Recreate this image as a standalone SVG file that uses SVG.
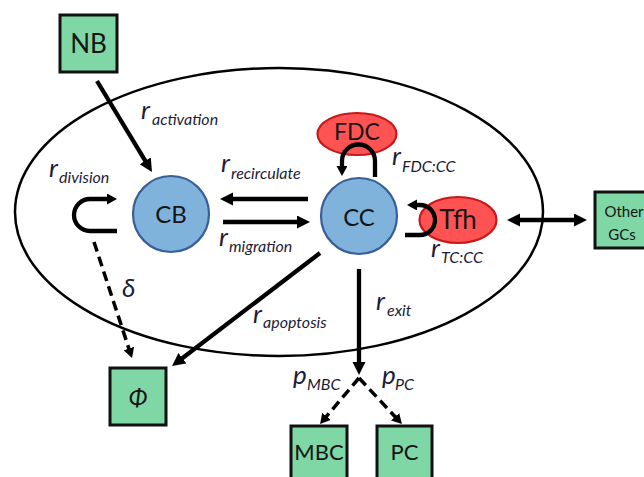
<svg xmlns="http://www.w3.org/2000/svg" width="644" height="477" viewBox="0 0 644 477">
<defs>
<style>
.box{fill:#80d7a6;stroke:#111;stroke-width:3}
.cell{fill:#7fb3dc;stroke:#3a5f96;stroke-width:2.2}
.red{fill:#ff5353;stroke:#c81818;stroke-width:2.2}
.lbl{font-family:Lato,"Liberation Sans",sans-serif;fill:#151515;text-anchor:middle}
.r{font-family:Lato,"Liberation Sans",sans-serif;font-style:italic;fill:#1c1c3a;font-size:26px}
.s{font-family:Lato,"Liberation Sans",sans-serif;font-style:italic;fill:#1c1c3a;font-size:16px}
.solid{fill:none;stroke:#000;stroke-width:4.3}
.dash{fill:none;stroke:#000;stroke-width:3.5;stroke-dasharray:10 5.5}
</style>
<marker id="ah" markerUnits="userSpaceOnUse" markerWidth="14" markerHeight="14" refX="3" refY="6.5" orient="auto-start-reverse" viewBox="0 0 14 14"><path d="M0,0 L13,6.5 L0,13 Z" fill="#000"/></marker>
<marker id="ahs" markerUnits="userSpaceOnUse" markerWidth="12" markerHeight="12" refX="2" refY="5.5" orient="auto" viewBox="0 0 12 12"><path d="M0,0 L10,5.5 L0,11 Z" fill="#000"/></marker>
<marker id="ahd" markerUnits="userSpaceOnUse" markerWidth="12" markerHeight="12" refX="2" refY="5.5" orient="auto" viewBox="0 0 12 12"><path d="M0,0 L10,5.5 L0,11 Z" fill="#000"/></marker>
</defs>
<rect width="644" height="477" fill="#fff"/>
<ellipse id="gc" cx="279" cy="212" rx="264" ry="144" fill="none" stroke="#000" stroke-width="2.5"/>

<g id="NB"><rect class="box" x="60" y="15" width="57" height="57"/><text class="lbl" x="88.5" y="53" font-size="26">NB</text></g>
<g id="CB"><circle class="cell" cx="171" cy="214" r="38"/><text class="lbl" x="171" y="223" font-size="24">CB</text></g>
<g id="CC"><circle class="cell" cx="359" cy="216" r="38"/><text class="lbl" x="359" y="226" font-size="24">CC</text></g>
<g id="FDC"><ellipse class="red" cx="357" cy="134" rx="39.5" ry="21"/><text class="lbl" x="357" y="140" font-size="23">FDC</text></g>
<g id="Tfh"><ellipse class="red" cx="458" cy="220" rx="38.5" ry="23"/><text class="lbl" x="458" y="229" font-size="26">Tfh</text></g>
<g id="OtherGCs"><rect class="box" x="595" y="192" width="58" height="56"/><text class="lbl" x="624" y="217" font-size="15">Other</text><text class="lbl" x="622" y="240" font-size="15">GCs</text></g>
<g id="Phi"><rect class="box" x="110" y="368" width="56" height="57"/><text class="lbl" x="138" y="406" font-size="24" font-style="italic">Φ</text></g>
<g id="MBC"><rect class="box" x="291" y="426" width="56" height="57"/><text class="lbl" x="319" y="460" font-size="22">MBC</text></g>
<g id="PC"><rect class="box" x="377" y="426" width="55" height="57"/><text class="lbl" x="404.5" y="460" font-size="22">PC</text></g>

<g id="connectors">
<line class="solid" x1="97" y1="81" x2="146.8" y2="163.4" marker-end="url(#ah)"/>
<line class="solid" x1="308" y1="199" x2="230" y2="199" marker-end="url(#ah)"/>
<line class="solid" x1="223" y1="222" x2="300" y2="222" marker-end="url(#ah)"/>
<line class="solid" x1="320" y1="253" x2="180" y2="360" marker-end="url(#ah)"/>
<line class="solid" x1="359" y1="269" x2="359" y2="365" marker-end="url(#ah)"/>
<line class="solid" x1="517" y1="220" x2="577" y2="220" marker-start="url(#ah)" marker-end="url(#ah)"/>
<path class="solid" d="M117,231 L90,231 A16,16 0 0 1 90,199 L109,199" marker-end="url(#ahs)"/>
<path class="solid" d="M375,177 L375,161 A16.5,16.5 0 0 0 342,161 L342,168" marker-end="url(#ahs)"/>
<path class="solid" d="M405,235 L420,235 A15,15 0 0 0 420,205 L415,205" marker-end="url(#ahs)"/>
<line class="dash" x1="94" y1="242" x2="129.5" y2="350.4" marker-end="url(#ahd)"/>
<line class="dash" x1="359" y1="378" x2="325.2" y2="417.9" marker-end="url(#ahd)"/>
<line class="dash" x1="359" y1="378" x2="396.5" y2="418.2" marker-end="url(#ahd)"/>
</g>

<g id="labels">
<text class="r" x="141" y="119">r</text><text class="s" x="152" y="125">activation</text>
<text class="r" x="49" y="177">r</text><text class="s" x="59" y="183">division</text>
<text class="r" x="221" y="172">r</text><text class="s" x="231" y="179">recirculate</text>
<text class="r" x="219" y="246">r</text><text class="s" x="229" y="252">migration</text>
<text class="r" x="392" y="165">r</text><text class="s" x="402" y="172">FDC:CC</text>
<text class="r" x="431" y="257">r</text><text class="s" x="441" y="263">TC:CC</text>
<text class="r" x="253" y="323">r</text><text class="s" x="263" y="328">apoptosis</text>
<text class="r" x="376" y="310">r</text><text class="s" x="387" y="316">exit</text>
<text class="r" x="122" y="297" font-size="24">δ</text>
<text class="r" x="293" y="384">p</text><text class="s" x="307" y="390">MBC</text>
<text class="r" x="382" y="384">p</text><text class="s" x="395" y="390">PC</text>
</g>
</svg>
